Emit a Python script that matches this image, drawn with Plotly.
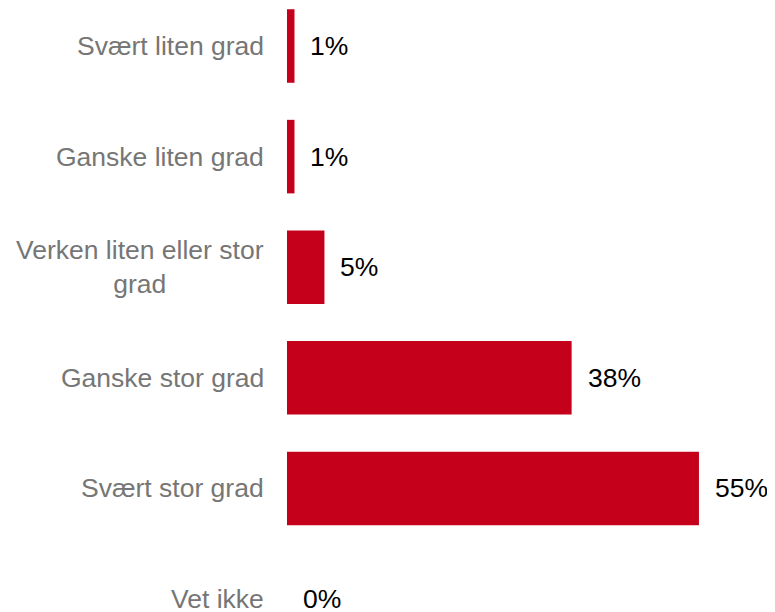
import plotly.graph_objects as go

categories = ["Svært liten grad", "Ganske liten grad", "Verken liten eller stor<br>grad",
              "Ganske stor grad", "Svært stor grad", "Vet ikke"]
values = [1, 1, 5, 38, 55, 0]
value_labels = ["1%", "1%", "5%", "38%", "55%", "0%"]

RED = "#C5001A"
GRAY = "#767676"
FONT = "Liberation Sans, Arial, sans-serif"
FS = 26.5

fig = go.Figure(go.Bar(
    x=values, y=categories, orientation="h",
    marker=dict(color=RED, line=dict(width=0)),
    width=0.665, hoverinfo="skip",
))

annotations = []
for c, v, t in zip(categories, values, value_labels):
    annotations.append(dict(
        x=0, xref="paper", y=c, yref="y", text=c, showarrow=False,
        xanchor="right", yanchor="middle", align="center", xshift=-21,
        font=dict(family=FONT, size=FS, color=GRAY),
    ))
    annotations.append(dict(
        x=v, xref="x", y=c, yref="y", text=t, showarrow=False,
        xanchor="left", yanchor="middle", xshift=14,
        font=dict(family=FONT, size=FS, color="#000000"),
    ))

fig.update_layout(
    width=767, height=604,
    margin=dict(l=279, r=20, t=0, b=0),
    paper_bgcolor="white", plot_bgcolor="white",
    showlegend=False,
    xaxis=dict(range=[0, 468 / 7.49], visible=False, fixedrange=True),
    yaxis=dict(range=[5.1175, -0.3436], showticklabels=False, showgrid=False,
               zeroline=False, showline=False, ticks="", fixedrange=True),
    annotations=annotations,
    font=dict(family=FONT),
)

fig.write_html("out.html")
